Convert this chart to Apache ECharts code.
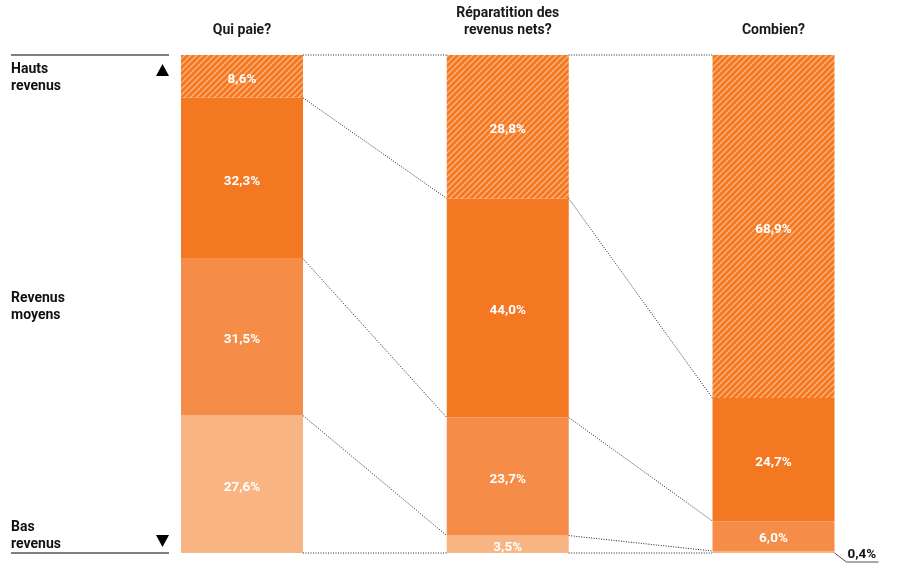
<!DOCTYPE html>
<html><head><meta charset="utf-8">
<script src="https://cdn.jsdelivr.net/npm/echarts@6/dist/echarts.min.js"></script>
<style>html,body{margin:0;padding:0;background:#fff}#c{width:898px;height:563px}</style>
</head><body><div id="c"></div>
<script>
// ---- data ----
var categories = ['Qui paie?', 'Réparatition des\nrevenus nets?', 'Combien?'];
var basRevenus     = [27.6, 3.5, 0.4];   // bottom segment
var moyensBas      = [31.5, 23.7, 6.0];
var moyensHauts    = [32.3, 44.0, 24.7];
var hautsRevenus   = [8.6, 28.8, 68.9];  // top, hatched
var rowLabels = ['Hauts\nrevenus', 'Revenus\nmoyens', 'Bas\nrevenus'];

function fmt(v){ return v.toFixed(1).replace('.', ',') + '%'; }

// hatch pattern
var pc = document.createElement('canvas');
pc.width = 6; pc.height = 6;
var g = pc.getContext('2d');
g.fillStyle = '#F47722'; g.fillRect(0,0,6,6);
g.strokeStyle = 'rgba(252,190,140,0.85)'; g.lineWidth = 1.3;
g.beginPath(); g.moveTo(0,6); g.lineTo(6,0); g.stroke();
g.beginPath(); g.moveTo(-3,3); g.lineTo(3,-3); g.stroke();
g.beginPath(); g.moveTo(3,9); g.lineTo(9,3); g.stroke();

var BAR_W = 122;
var FONT = 'Roboto, "DejaVu Sans", sans-serif';

// boundaries (cumulative from bottom) for connectors
var layers = [basRevenus, moyensBas, moyensHauts, hautsRevenus];
function cumul(i){
  var out = [0], s = 0;
  layers.forEach(function(l){ s += l[i]; out.push(Math.round(s*10)/10); });
  out[out.length-1] = 100;
  return out;
}
var connectors = [];
for (var i = 0; i < categories.length - 1; i++) {
  var a = cumul(i), b = cumul(i+1);
  for (var k = 0; k < a.length; k++) connectors.push([i, a[k], i+1, b[k]]);
}

function labelCfg(){
  return {show:true, position:'inside', offset:[0,3], color:'#fff', fontFamily:FONT, fontWeight:'bold', fontSize:13.5,
    formatter:function(p){ return fmt(typeof p.value === 'number' ? p.value : p.data.value); }};
}

var bottomData = basRevenus.map(function(v, i){
  if (v < 2) return {value:v, label:{show:true, position:'right', distance:13, offset:[0,3], color:'#111', fontSize:13.5, fontWeight:'bold', fontFamily:FONT}};
  return v;
});

var chart = echarts.init(document.getElementById('c'), null, {renderer:'canvas'});
chart.setOption({
  animation:false,
  grid:{left:242, top:55, right:124.5, height:498},
  xAxis:{type:'category', data:categories, position:'top', boundaryGap:false,
    axisLine:{show:false}, axisTick:{show:false}, splitLine:{show:false},
    axisLabel:{margin:16, color:'#1a1a1a', fontFamily:FONT, fontWeight:'bold', fontSize:14, lineHeight:17, interval:0}},
  yAxis:{type:'value', min:0, max:100, show:false},
  series:[
    {type:'bar', stack:'a', barWidth:BAR_W, clip:false, data:bottomData, itemStyle:{color:'#F9B483'}, label:labelCfg()},
    {type:'bar', stack:'a', barWidth:BAR_W, clip:false, data:moyensBas, itemStyle:{color:'#F58D48'}, label:labelCfg()},
    {type:'bar', stack:'a', barWidth:BAR_W, clip:false, data:moyensHauts, itemStyle:{color:'#F47722'}, label:labelCfg()},
    {type:'bar', stack:'a', barWidth:BAR_W, clip:false, data:hautsRevenus, itemStyle:{color:{image:pc, repeat:'repeat'}}, label:labelCfg()},
    {type:'custom', data:connectors, silent:true, z:5, clip:false,
      renderItem:function(params, api){
        var p1 = api.coord([api.value(0), api.value(1)]);
        var p2 = api.coord([api.value(2), api.value(3)]);
        return {type:'line', shape:{x1:p1[0]+BAR_W/2, y1:p1[1], x2:p2[0]-BAR_W/2, y2:p2[1]},
          style:{stroke:'#222', lineWidth:1, lineDash:[1,1.5]}};
      }},
    {type:'custom', data:[[2, 0]], silent:true, z:5, clip:false,
      renderItem:function(params, api){
        var p = api.coord([api.value(0), api.value(1)]);
        var x = p[0]+BAR_W/2;
        return {type:'polyline', shape:{points:[[x,p[1]],[x+12,p[1]+9],[x+44,p[1]+9]]},
          style:{stroke:'#555', lineWidth:1, fill:null}};
      }}
  ],
  graphic:[
    {type:'line', shape:{x1:11,y1:55,x2:169,y2:55}, style:{stroke:'#555', lineWidth:1.5}},
    {type:'line', shape:{x1:11,y1:553,x2:169,y2:553}, style:{stroke:'#555', lineWidth:1.5}},
    {type:'text', left:11, top:61, style:{text:rowLabels[0], fill:'#111', font:'bold 14px '+FONT, lineHeight:17}},
    {type:'text', left:11, top:290, style:{text:rowLabels[1], fill:'#111', font:'bold 14px '+FONT, lineHeight:17}},
    {type:'text', left:11, top:519, style:{text:rowLabels[2], fill:'#111', font:'bold 14px '+FONT, lineHeight:17}},
    {type:'polygon', shape:{points:[[156,76],[169,76],[162.5,64]]}, style:{fill:'#000'}},
    {type:'polygon', shape:{points:[[156,535],[169,535],[162.5,547]]}, style:{fill:'#000'}}
  ]
});
</script></body></html>
